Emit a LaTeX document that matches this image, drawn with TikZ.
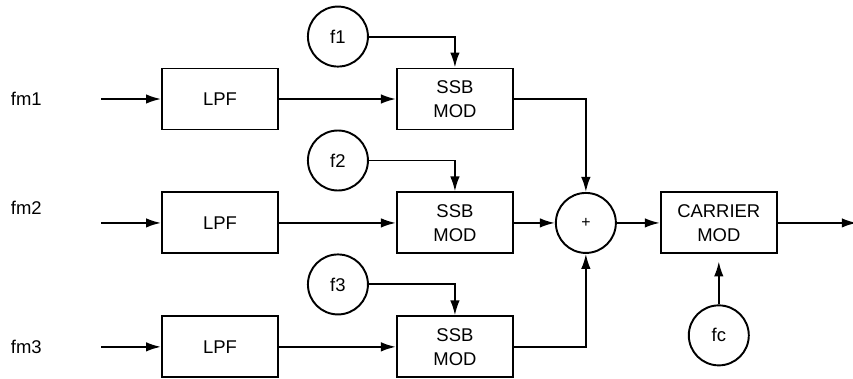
\documentclass[tikz,border=0pt]{standalone}
\usepackage{fontspec}
\setmainfont{Liberation Sans}
\usetikzlibrary{arrows.meta, positioning}

\begin{document}
\begin{tikzpicture}[
  node distance=1.22cm and 2.34cm,
  block/.style={rectangle, draw, line width=1.1pt, minimum width=2.32cm, minimum height=1.22cm, inner sep=0pt, align=center, font=\fontsize{10.5}{13.6}\selectfont},
  osc/.style={circle, draw, line width=1.1pt, minimum size=1.2cm, inner sep=0pt, font=\fontsize{10.5}{12}\selectfont},
  sig/.style={inner sep=0pt, font=\fontsize{10.5}{12}\selectfont},
  arrowstyle/.style={-{Latex[length=3mm, width=1.9mm]}, line width=1.1pt}
]
\useasboundingbox (-4.40,1.98) rectangle (12.66,-5.58);

% filters
\node[block] (lpf1) {LPF};
\node[block, below=of lpf1] (lpf2) {LPF};
\node[block, below=of lpf2] (lpf3) {LPF};

% modulators
\node[block, right=of lpf1] (ssb1) {SSB\\MOD};
\node[block, right=of lpf2] (ssb2) {SSB\\MOD};
\node[block, right=of lpf3] (ssb3) {SSB\\MOD};

\node[osc, above=0pt of ssb1, xshift=-2.34cm] (f1) {f1};
\node[osc, above=0pt of ssb2, xshift=-2.34cm] (f2) {f2};
\node[osc, above=0pt of ssb3, xshift=-2.34cm] (f3) {f3};

% sum and carrier
\node[osc, right=0.82cm of ssb2, font=\fontsize{9}{10}\selectfont] (sum) {+};
\node[block, right=0.86cm of sum] (carrier) {CARRIER\\MOD};
\node[osc, below=1.0cm of carrier] (fc) {fc};

% inputs and output
\coordinate[left=1.2cm of lpf1] (in1);
\coordinate[left=1.2cm of lpf2] (in2);
\coordinate[left=1.2cm of lpf3] (in3);
\coordinate[right=1.58cm of carrier] (out);

\node[sig, left=1.18cm of in1] (fm1) {fm1};
\node[sig, left=1.18cm of in2, yshift=0.3cm] (fm2) {fm2};
\node[sig, left=1.18cm of in3] (fm3) {fm3};

\draw[arrowstyle] (in1) -- (lpf1);
\draw[arrowstyle] (in2) -- (lpf2);
\draw[arrowstyle] (in3) -- (lpf3);

\draw[arrowstyle] (lpf1) -- (ssb1);
\draw[arrowstyle] (lpf2) -- (ssb2);
\draw[arrowstyle] (lpf3) -- (ssb3);

\draw[arrowstyle] (f1) -| (ssb1);
\draw[arrowstyle] (f2) -| (ssb2);
\draw[arrowstyle] (f3) -| (ssb3);

\draw[arrowstyle] (ssb1) -| (sum);
\draw[arrowstyle] (ssb2) -- (sum);
\draw[arrowstyle] (ssb3) -| (sum);

\draw[arrowstyle] (sum) -- (carrier);
\draw[arrowstyle, shorten >=4pt] (fc) -- (carrier);
\draw[arrowstyle] (carrier) -- (out);

\end{tikzpicture}
\end{document}
